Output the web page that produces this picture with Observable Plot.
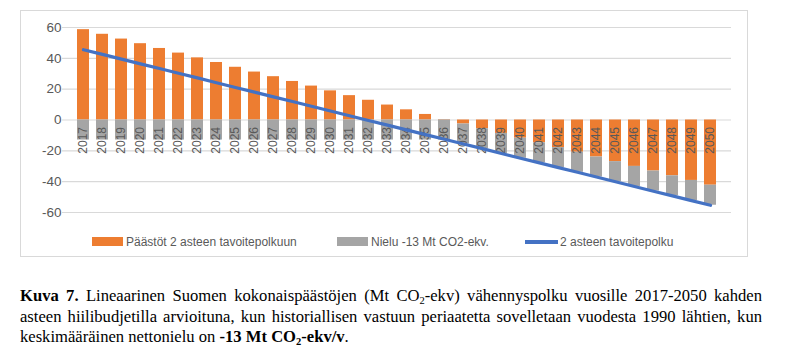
<!DOCTYPE html>
<html><head><meta charset="utf-8">
<script src="https://cdn.jsdelivr.net/npm/d3@7"></script>
<script src="https://cdn.jsdelivr.net/npm/@observablehq/plot@0.6"></script>
<style>
body{margin:0;background:#fff;width:792px;height:364px;position:relative;overflow:hidden;font-family:"Liberation Sans",sans-serif}
#frame{position:absolute;left:20px;top:10px;width:728px;height:247px;border:1px solid #d9d9d9;box-sizing:border-box}
#chart{position:absolute;left:0;top:0}
#legend{position:absolute;top:235px;left:0;width:792px;height:14px;font-size:12px;color:#595959}
.sw{position:absolute}
.lt{position:absolute;top:0;line-height:14px;white-space:nowrap}
#caption{position:absolute;left:20px;top:286px;width:742px;font-family:"Liberation Serif",serif;font-size:16.6px;line-height:20.5px;color:#000}
#caption .j{text-align:justify;text-align-last:justify;white-space:nowrap}
#caption sub{font-size:10.5px;line-height:0;vertical-align:-3px}
</style></head><body>
<div id="frame"></div>
<div id="chart"></div>
<div id="legend"></div>
<div id="caption"><div class="j"><b>Kuva 7.</b> Lineaarinen Suomen kokonaispäästöjen (Mt CO<sub>2</sub>-ekv) vähennyspolku vuosille 2017-2050 kahden</div><div class="j">asteen hiilibudjetilla arvioituna, kun historiallisen vastuun periaatetta sovelletaan vuodesta 1990 lähtien, kun</div><div>keskimääräinen nettonielu on <b>-13 Mt CO<sub>2</sub>-ekv/v</b>.</div></div>
<script>
const years = [2017,2018,2019,2020,2021,2022,2023,2024,2025,2026,2027,2028,2029,2030,2031,2032,2033,2034,2035,2036,2037,2038,2039,2040,2041,2042,2043,2044,2045,2046,2047,2048,2049,2050];
const emissions = [58.6,55.6,52.5,49.5,46.4,43.4,40.3,37.3,34.2,31.1,28.1,25.0,22.0,18.9,15.8,12.8,9.7,6.6,3.6,0.3,-2.6,-5.7,-8.7,-11.8,-14.8,-17.9,-20.9,-24.0,-27.0,-30.1,-33.1,-36.2,-39.2,-42.3];
const sink = [-13,-13,-13,-13,-13,-13,-13,-13,-13,-13,-13,-13,-13,-13,-13,-13,-13,-13,-13,-13,-13,-13,-13,-13,-13,-13,-13,-13,-13,-13,-13,-13,-13,-13];
const target = [45.6,42.6,39.5,36.4,33.4,30.3,27.3,24.2,21.1,18.1,15.0,12.0,8.9,5.8,2.8,-0.3,-3.3,-6.4,-9.5,-12.5,-15.6,-18.6,-21.7,-24.8,-27.8,-30.9,-33.9,-37.0,-40.1,-43.1,-46.2,-49.2,-52.3,-55.3];
const yTicks = [-60,-40,-20,0,20,40,60];
const seriesNames = ["Päästöt 2 asteen tavoitepolkuun","Nielu -13 Mt CO2-ekv.","2 asteen tavoitepolku"];
const colors = ["#ED7D31","#A5A5A5","#4472C4"];

const bars = [];
years.forEach((y,i)=>{
  bars.push({year:y, series:seriesNames[0], value:emissions[i]});
  bars.push({year:y, series:seriesNames[1], value:sink[i]});
});
const lineData = years.map((y,i)=>({year:y, value:target[i]}));

const plot = Plot.plot({
  width:792, height:225,
  marginTop:27, marginBottom:13, marginLeft:62, marginRight:61,
  style:{fontFamily:"Liberation Sans, sans-serif", background:"transparent"},
  x:{type:"band", domain:years, padding:0.38, axis:null},
  y:{domain:[-60,60], ticks:yTicks, axis:null},
  color:{domain:seriesNames.slice(0,2), range:colors.slice(0,2)},
  marks:[
    Plot.ruleY(yTicks, {stroke:"#d9d9d9", strokeWidth:1.2}),
    Plot.barY(bars, {x:"year", y:"value", fill:"series", order:seriesNames.slice(0,2)}),
    Plot.text(years, {x:d=>d, y:()=>0, text:d=>String(d), rotate:-90, textAnchor:"end", dy:7, lineAnchor:"middle", fontSize:12, fill:"#595959"}),
    Plot.line(lineData, {x:"year", y:"value", stroke:colors[2], strokeWidth:3.2}),
    Plot.text(yTicks, {x:()=>years[0], y:d=>d, text:d=>String(d), textAnchor:"end", dx:-22, fontSize:13.5, fill:"#595959"})
  ]
});
document.getElementById("chart").appendChild(plot);

const legend = document.getElementById("legend");
const items = [
  {sx:92, w:31, h:9, top:2, text:126},
  {sx:337, w:31, h:9, top:2, text:371},
  {sx:525, w:33, h:3.5, top:5, text:560}
];
items.forEach((it,i)=>{
  const s=document.createElement("div");
  s.className="sw";
  s.style.left=it.sx+"px"; s.style.top=it.top+"px"; s.style.width=it.w+"px"; s.style.height=it.h+"px"; s.style.background=colors[i];
  legend.appendChild(s);
  const t=document.createElement("div");
  t.className="lt"; t.style.left=it.text+"px"; t.textContent=seriesNames[i];
  legend.appendChild(t);
});
</script>
</body></html>
